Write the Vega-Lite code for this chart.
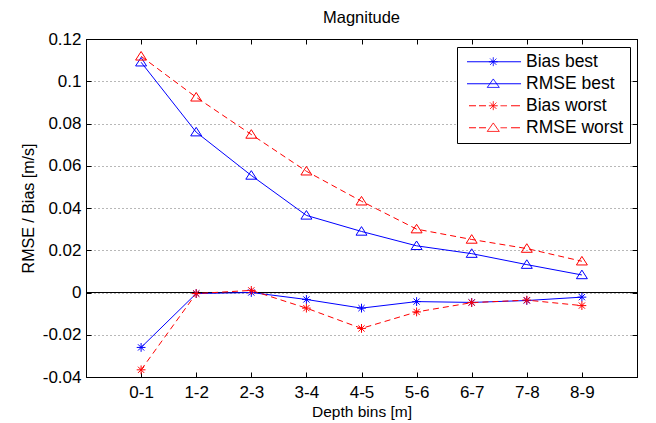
{
  "$schema": "https://vega.github.io/schema/vega-lite/v6.json",
  "width": 551,
  "height": 338,
  "autosize": {"type": "none"},
  "padding": {"left": 86, "top": 39, "right": 19, "bottom": 46},
  "background": "white",
  "title": {"text": "Magnitude", "fontSize": 16.5, "font": "Liberation Sans", "fontWeight": "normal", "color": "black", "offset": 4, "anchor": "middle"},
  "data": {
    "values": [
      {"bin": 1, "series": "Bias best", "value": -0.026},
      {"bin": 2, "series": "Bias best", "value": -0.0005},
      {"bin": 3, "series": "Bias best", "value": 0.0},
      {"bin": 4, "series": "Bias best", "value": -0.0033},
      {"bin": 5, "series": "Bias best", "value": -0.0074},
      {"bin": 6, "series": "Bias best", "value": -0.0043},
      {"bin": 7, "series": "Bias best", "value": -0.0047},
      {"bin": 8, "series": "Bias best", "value": -0.0038},
      {"bin": 9, "series": "Bias best", "value": -0.0022},
      {"bin": 1, "series": "RMSE best", "value": 0.109},
      {"bin": 2, "series": "RMSE best", "value": 0.0759},
      {"bin": 3, "series": "RMSE best", "value": 0.0554},
      {"bin": 4, "series": "RMSE best", "value": 0.0365},
      {"bin": 5, "series": "RMSE best", "value": 0.0289},
      {"bin": 6, "series": "RMSE best", "value": 0.0221},
      {"bin": 7, "series": "RMSE best", "value": 0.0184},
      {"bin": 8, "series": "RMSE best", "value": 0.0132},
      {"bin": 9, "series": "RMSE best", "value": 0.0083},
      {"bin": 1, "series": "Bias worst", "value": -0.0366},
      {"bin": 2, "series": "Bias worst", "value": -0.0005},
      {"bin": 3, "series": "Bias worst", "value": 0.001},
      {"bin": 4, "series": "Bias worst", "value": -0.0074},
      {"bin": 5, "series": "Bias worst", "value": -0.017},
      {"bin": 6, "series": "Bias worst", "value": -0.0092},
      {"bin": 7, "series": "Bias worst", "value": -0.0048},
      {"bin": 8, "series": "Bias worst", "value": -0.0036},
      {"bin": 9, "series": "Bias worst", "value": -0.0062},
      {"bin": 1, "series": "RMSE worst", "value": 0.1118},
      {"bin": 2, "series": "RMSE worst", "value": 0.0924},
      {"bin": 3, "series": "RMSE worst", "value": 0.0748},
      {"bin": 4, "series": "RMSE worst", "value": 0.0574},
      {"bin": 5, "series": "RMSE worst", "value": 0.0432},
      {"bin": 6, "series": "RMSE worst", "value": 0.030},
      {"bin": 7, "series": "RMSE worst", "value": 0.0251},
      {"bin": 8, "series": "RMSE worst", "value": 0.0208},
      {"bin": 9, "series": "RMSE worst", "value": 0.0148}
    ]
  },
  "layer": [
    {
      "mark": {"type": "rule", "color": "black", "strokeWidth": 1},
      "encoding": {
        "y": {"datum": 0, "type": "quantitative", "axis": null}
      }
    },
    {
      "transform": [{"filter": "indexof(datum.series, 'best') >= 0"}],
      "mark": {"type": "line", "strokeWidth": 1},
      "encoding": {
        "x": {
          "field": "bin", "type": "quantitative",
          "scale": {"domain": [0, 10], "nice": false, "zero": false},
          "axis": {
            "orient": "bottom",
            "values": [1, 2, 3, 4, 5, 6, 7, 8, 9],
            "labelExpr": "(datum.value - 1) + '-' + datum.value",
            "title": "Depth bins [m]",
            "titleFontSize": 15.5,
            "titlePadding": 4,
            "tickSize": -5,
            "labelPadding": 12,
            "grid": false
          }
        },
        "y": {
          "field": "value", "type": "quantitative",
          "scale": {"domain": [-0.04, 0.12], "nice": false, "zero": false},
          "axis": {
            "orient": "left",
            "values": [-0.04, -0.02, 0, 0.02, 0.04, 0.06, 0.08, 0.1, 0.12],
            "labelExpr": "'' + datum.value",
            "title": "RMSE / Bias [m/s]",
            "titleFont": "Liberation Sans Narrow, Liberation Sans",
            "titleFontSize": 16,
            "titlePadding": 6,
            "tickSize": -5,
            "labelPadding": 10,
            "grid": true,
            "gridDash": [1, 3],
            "gridColor": "#707070",
            "gridWidth": 1
          }
        },
        "color": {
          "field": "series", "type": "nominal",
          "scale": {"domain": ["Bias best", "RMSE best", "Bias worst", "RMSE worst"], "range": ["#0000ff", "#0000ff", "#ff0000", "#ff0000"]},
          "legend": {"title": null}
        },
        "detail": {"field": "series"},
        "order": {"field": "bin"}
      }
    },
    {
      "transform": [{"filter": "indexof(datum.series, 'worst') >= 0"}],
      "mark": {"type": "line", "strokeWidth": 1, "strokeDash": [6, 4]},
      "encoding": {
        "x": {"field": "bin", "type": "quantitative", "axis": null},
        "y": {"field": "value", "type": "quantitative", "axis": null},
        "color": {"field": "series", "type": "nominal", "legend": {"title": null}},
        "detail": {"field": "series"},
        "order": {"field": "bin"}
      }
    },
    {
      "transform": [{"filter": "indexof(datum.series, 'Bias') == 0"}],
      "mark": {"type": "point", "filled": false, "size": 77, "strokeWidth": 1, "opacity": 1, "shape": "M0,-1L0,1M-1,0L1,0M-0.71,-0.71L0.71,0.71M-0.71,0.71L0.71,-0.71"},
      "encoding": {
        "x": {
          "field": "bin", "type": "quantitative",
          "axis": {"orient": "top", "values": [1, 2, 3, 4, 5, 6, 7, 8, 9], "labels": false, "title": null, "tickSize": -5, "grid": false}
        },
        "y": {
          "field": "value", "type": "quantitative",
          "axis": {"orient": "right", "values": [-0.04, -0.02, 0, 0.02, 0.04, 0.06, 0.08, 0.1, 0.12], "labels": false, "title": null, "tickSize": -5, "grid": false}
        },
        "color": {"field": "series", "type": "nominal", "legend": {"title": null}}
      }
    },
    {
      "transform": [{"filter": "indexof(datum.series, 'RMSE') == 0"}],
      "mark": {"type": "point", "filled": false, "size": 77, "strokeWidth": 1, "opacity": 1, "shape": "M0,-1.1L1.25,0.85L-1.25,0.85Z"},
      "encoding": {
        "x": {"field": "bin", "type": "quantitative", "axis": null},
        "y": {"field": "value", "type": "quantitative", "axis": null},
        "color": {"field": "series", "type": "nominal", "legend": {"title": null}}
      }
    },
    {
      "mark": {"type": "point", "filled": false, "size": 256, "strokeWidth": 1, "opacity": 0},
      "encoding": {
        "x": {"field": "bin", "type": "quantitative", "axis": null},
        "y": {"field": "value", "type": "quantitative", "axis": null},
        "color": {"field": "series", "type": "nominal", "legend": {"title": null}},
        "shape": {
          "field": "series", "type": "nominal",
          "scale": {"domain": ["Bias best", "RMSE best", "Bias worst", "RMSE worst"], "range": [
            "M-0.59,0L6.16,0M2.69,-0.55L2.69,0.55M2.14,0L3.24,0M2.3,-0.39L3.08,0.39M2.3,0.39L3.08,-0.39",
            "M-0.59,0L6.16,0M2.69,-0.6L3.44,0.46L1.94,0.46Z",
            "M-0.34,0L0.53,0M0.91,0L1.78,0M3.6,0L4.41,0M4.91,0L6.03,0M2.69,-0.55L2.69,0.55M2.14,0L3.24,0M2.3,-0.39L3.08,0.39M2.3,0.39L3.08,-0.39",
            "M-0.34,0L0.53,0M0.91,0L1.78,0M3.6,0L4.41,0M4.91,0L6.03,0M2.69,-0.6L3.44,0.46L1.94,0.46Z"
          ]},
          "legend": {"title": null}
        }
      }
    }
  ],
  "resolve": {"axis": {"x": "independent", "y": "independent"}},
  "config": {
    "view": {"stroke": "black", "strokeWidth": 1},
    "axis": {
      "domainColor": "black",
      "tickColor": "black",
      "labelColor": "black",
      "titleColor": "black",
      "labelFont": "Liberation Sans",
      "titleFont": "Liberation Sans",
      "labelFontSize": 17,
      "titleFontWeight": "normal",
      "domainWidth": 1,
      "tickWidth": 1
    },
    "legend": {
      "orient": "none",
      "legendX": 371,
      "legendY": 8,
      "padding": 6,
      "strokeColor": "black",
      "fillColor": "white",
      "symbolSize": 256,
      "symbolStrokeWidth": 1,
      "symbolOpacity": 1,
      "symbolDash": [1, 0],
      "labelFont": "Liberation Sans",
      "labelFontSize": 17.5,
      "labelColor": "black",
      "labelOffset": 45.5,
      "labelLimit": 300,
      "rowPadding": 3,
      "cornerRadius": 0
    }
  }
}
